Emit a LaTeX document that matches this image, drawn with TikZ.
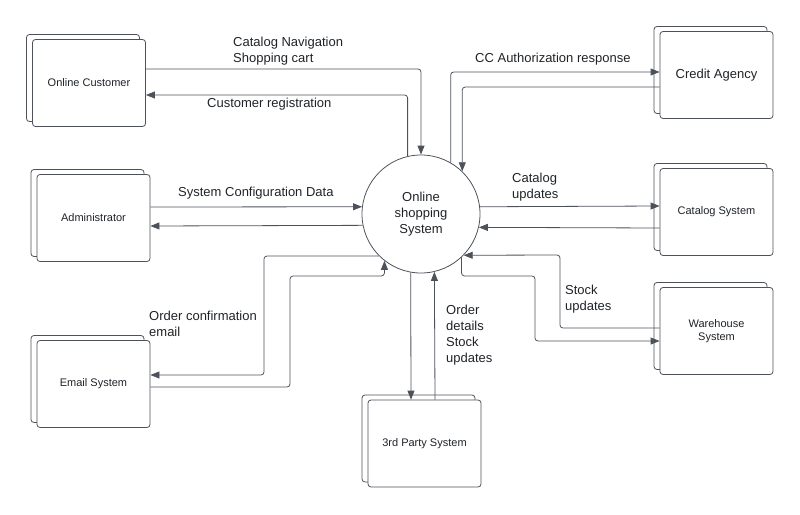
\documentclass[tikz,border=0pt]{standalone}
\usepackage{fontspec}
\setmainfont{Liberation Sans}
\usetikzlibrary{arrows.meta}
\definecolor{ln}{HTML}{4D525A}
\definecolor{tx}{HTML}{1F2328}
\begin{document}
\begin{tikzpicture}[x=1pt,y=-1pt,
  box/.style={draw=ln,line width=0.8pt,rounded corners=3pt,fill=white,minimum width=113pt,minimum height=87pt,align=center,font=\fontsize{11}{13}\selectfont,text=tx},
  back/.style={draw=ln,line width=0.8pt,rounded corners=3pt,fill=white},
  conn/.style={draw=ln,line width=0.8pt,rounded corners=3pt,-{Triangle[length=9pt,width=7pt]}},
  lab/.style={font=\fontsize{13}{16}\selectfont,text=tx,align=left,anchor=north west,inner sep=0pt}]
\useasboundingbox (0,0) rectangle (800,514);
\newcommand\sysbox[4]{%
  \draw[back,shift={(#2,#3)}] (-62.5,-48.5) rectangle (50.5,38.5);
  \node[box] (#1) at (#2,#3) {#4};}
\sysbox{cust}{89}{83}{Online Customer}
\sysbox{admin}{93.5}{218}{Administrator}
\sysbox{email}{93.5}{384}{Email System}
\sysbox{third}{424.5}{443.5}{3rd Party System}
\sysbox{credit}{716.5}{75}{\fontsize{13}{15}\selectfont Credit Agency}
\sysbox{catalog}{716.5}{212}{Catalog System}
\sysbox{ware}{716.5}{331}{Warehouse\\System}
\node[circle,draw=ln,line width=0.8pt,minimum size=118pt,inner sep=0pt,align=center,text=tx,font=\fontsize{13}{16}\selectfont] (c) at (421,214) {Online\\shopping\\System};

% customer
\draw[conn] (cust.east |- 0,69) -| (c.north);
\draw[conn] (c.103.7) |- (cust.east |- 0,95);
\node[lab] at (233,37) {Catalog Navigation\\Shopping cart};
\node[lab] at (207,98) {Customer registration};
% admin
\draw[conn] (admin.east |- 0,207) -- (c.173.2);
\draw[conn] (c.191.7) -- (admin.east |- 0,226);
\node[lab] at (178,187) {System Configuration Data};
% email
\draw[conn] (c.225.4) -| (264,375) -- (email.east |- 0,375);
\draw[conn] (email.east |- 0,387) -| (290,276) -| (c.232.4);
\node[lab] at (149,311) {Order confirmation\\email};
% third party
\draw[conn] (c.260.3) -- (third.north -| 411,0);
\draw[conn] (third.north -| 435,0) -- (c.283.7);
\node[lab] at (446,305) {Order\\details\\Stock\\updates};
% credit
\draw[conn] (c.60.6) |- (credit.west |- 0,72);
\draw[conn] (credit.west |- 0,87) -| (c.46);
\node[lab] at (475,53) {CC Authorization response};
% catalog
\draw[conn] (c.7.8) -- (catalog.west |- 0,206);
\draw[conn] (catalog.west |- 0,228) -- (c.-13.7);
\node[lab] at (512,173) {Catalog\\updates};
% warehouse
\draw[conn] (ware.west |- 0,328) -| (560,255) -- (c.-44);
\draw[conn] (c.-47.3) |- (535,276) |- (ware.west |- 0,341);
\node[lab] at (565,285) {Stock\\updates};
\end{tikzpicture}
\end{document}
